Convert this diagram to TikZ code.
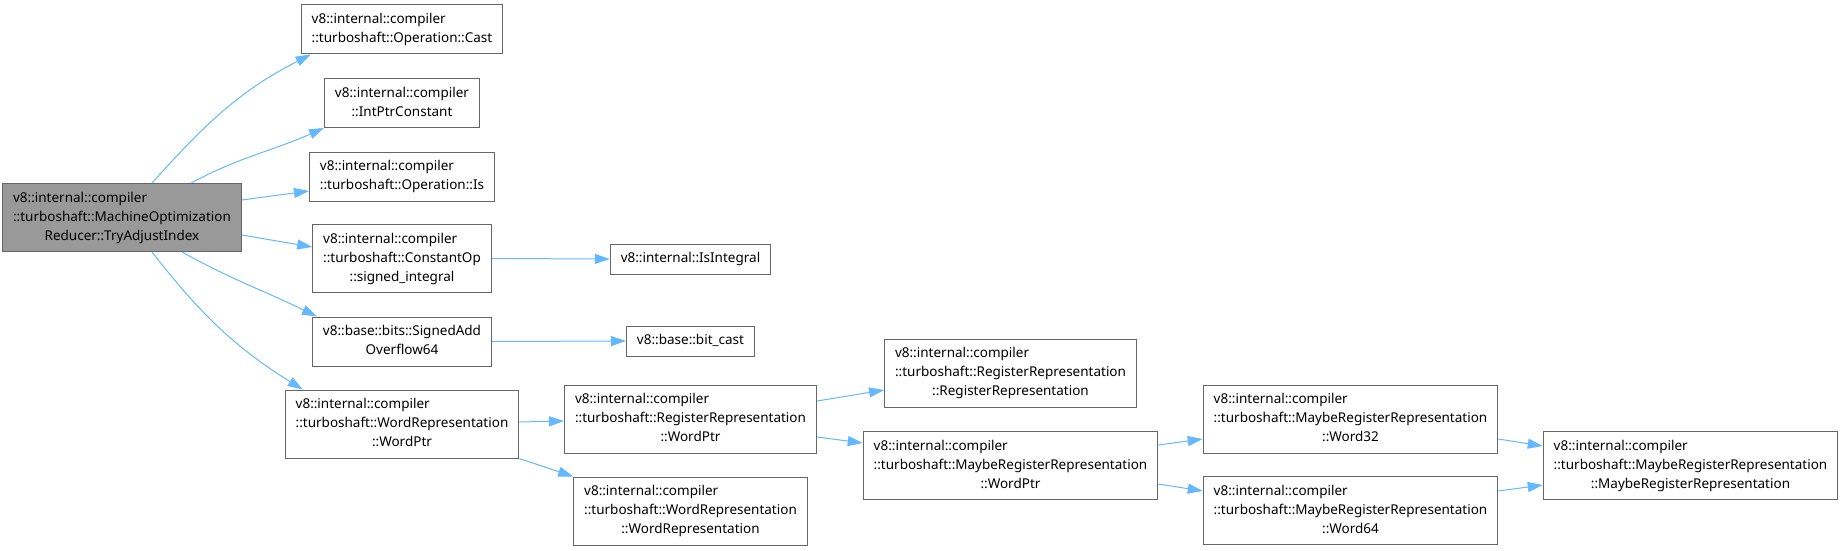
\documentclass[tikz,border=0pt]{standalone}
\usepackage{fontspec}
\setmainfont{Noto Sans}
\usetikzlibrary{arrows.meta}
\definecolor{gray40}{HTML}{666666}
\definecolor{grey60}{HTML}{999999}
\definecolor{edgeblue}{HTML}{63B8FF}
\newcommand{\fnlbl}[1]{\begin{tabular}{@{}l@{}}#1\end{tabular}}
\newcommand{\fnlast}[1]{\multicolumn{1}{@{}c@{}}{#1}}
\tikzset{
  fn/.style = {draw=gray40, fill=white, line width=1, inner xsep=10.5,
               inner ysep=5.5, font=\fontsize{13.5}{19}\selectfont},
  fnroot/.style = {fn, fill=grey60},
  call/.style = {draw=edgeblue, line width=1,
                 -{Triangle[length=15,width=10]}}
}

\begin{document}
\begin{tikzpicture}[x=1pt,y=1pt]
	\def \cA{122}
	\def \cB{402}
	\def \cC{690.5}
	\def \cD{1010.5}
	\def \cE{1350.5}
	\def \cF{1690.5}
	
	\useasboundingbox (0,0) rectangle (1843,550);
	
	% Caller
	\node[fnroot] (root) at (\cA,332.5) {\fnlbl{v8::internal::compiler\\::turboshaft::MachineOptimization\\\fnlast{Reducer::TryAdjustIndex}}};
	
	% Callees, first level
	\node[fn] (cast)      at (\cB,520.5) {\fnlbl{v8::internal::compiler\\::turboshaft::Operation::Cast}};
	\node[fn] (intptr)    at (\cB,447)   {\fnlbl{v8::internal::compiler\\\fnlast{::IntPtrConstant}}};
	\node[fn] (is)        at (\cB,373.5) {\fnlbl{v8::internal::compiler\\::turboshaft::Operation::Is}};
	\node[fn] (constop)   at (\cB,291.5) {\fnlbl{v8::internal::compiler\\::turboshaft::ConstantOp\\\fnlast{::signed\_integral}}};
	\node[fn] (signedadd) at (\cB,208.5) {\fnlbl{v8::base::bits::SignedAdd\\\fnlast{Overflow64}}};
	\node[fn] (wordptr)   at (\cB,126)   {\fnlbl{v8::internal::compiler\\::turboshaft::WordRepresentation\\\fnlast{::WordPtr}}};
	
	% Second level
	\node[fn] (isintegral) at (\cC,291) {\fnlbl{v8::internal::IsIntegral}};
	\node[fn] (bitcast)    at (\cC,209) {\fnlbl{v8::base::bit\_cast}};
	\node[fn] (regwordptr) at (\cC,131) {\fnlbl{v8::internal::compiler\\::turboshaft::RegisterRepresentation\\\fnlast{::WordPtr}}};
	\node[fn] (wordrep)    at (\cC,39)  {\fnlbl{v8::internal::compiler\\::turboshaft::WordRepresentation\\\fnlast{::WordRepresentation}}};
	
	% Third level and beyond
	\node[fn] (regrep)       at (\cD,177)  {\fnlbl{v8::internal::compiler\\::turboshaft::RegisterRepresentation\\\fnlast{::RegisterRepresentation}}};
	\node[fn] (maybewordptr) at (\cD,84.5) {\fnlbl{v8::internal::compiler\\::turboshaft::MaybeRegisterRepresentation\\\fnlast{::WordPtr}}};
	\node[fn] (word32)       at (\cE,131)  {\fnlbl{v8::internal::compiler\\::turboshaft::MaybeRegisterRepresentation\\\fnlast{::Word32}}};
	\node[fn] (word64)       at (\cE,39.5) {\fnlbl{v8::internal::compiler\\::turboshaft::MaybeRegisterRepresentation\\\fnlast{::Word64}}};
	\node[fn] (maybe)        at (\cF,84.5) {\fnlbl{v8::internal::compiler\\::turboshaft::MaybeRegisterRepresentation\\\fnlast{::MaybeRegisterRepresentation}}};
	
	% Calls from the caller
	\draw[call] ([xshift=30]root.north) to[out=48,in=207] ([xshift=10]cast.south west);
	\draw[call] ([xshift=69]root.north) to[out=28,in=204] (intptr.south west);
	\draw[call] ([yshift=17.5]root.east) -- ([yshift=-14.5]is.west);
	\draw[call] ([yshift=-17.5]root.east) -- ([yshift=11.5]constop.west);
	\draw[call] ([xshift=60]root.south) to[out=-29,in=154] ([xshift=5]signedadd.north west);
	\draw[call] ([xshift=30]root.south) to[out=-52,in=148] ([xshift=18]wordptr.north west);
	
	% Further calls
	\draw[call] (constop.east) -- (isintegral.west);
	\draw[call] (signedadd.east) -- (bitcast.west);
	\draw[call] ([yshift=2]wordptr.east) -- ([yshift=-2]regwordptr.west);
	\draw[call] (wordptr.south east) -- (wordrep.north west);
	\draw[call] ([yshift=18]regwordptr.east) -- ([yshift=-17]regrep.west);
	\draw[call] ([yshift=-18]regwordptr.east) -- ([yshift=22.5]maybewordptr.west);
	\draw[call] ([yshift=20.5]maybewordptr.east) -- ([yshift=-20]word32.west);
	\draw[call] ([yshift=-18.5]maybewordptr.east) -- ([yshift=19.5]word64.west);
	\draw[call] ([yshift=-20]word32.east) -- ([yshift=19.5]maybe.west);
	\draw[call] ([yshift=19.5]word64.east) -- ([yshift=-19.5]maybe.west);
	
\end{tikzpicture}
\end{document}
